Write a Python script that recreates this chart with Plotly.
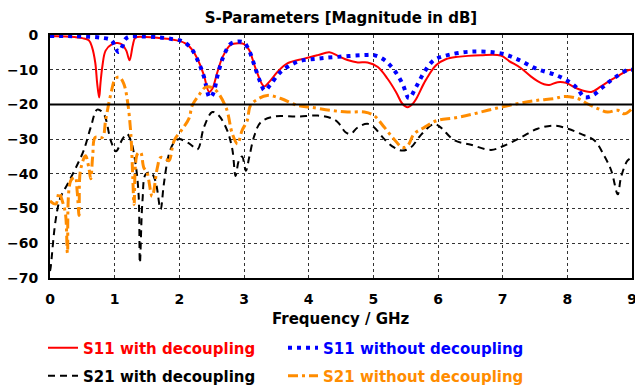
import plotly.graph_objects as go

# S11 with decoupling (dB)
f_s11_dec = [0, 0.3, 0.5, 0.6, 0.65, 0.7, 0.73, 0.76, 0.78, 0.81, 0.86, 0.96, 1.05, 1.12, 1.18,
             1.23, 1.28, 1.32, 1.48, 1.7, 1.89, 2.0, 2.1, 2.2, 2.3, 2.38, 2.46, 2.51, 2.59, 2.67,
             2.79, 2.92, 3.0, 3.08, 3.18, 3.31, 3.39, 3.52, 3.67, 3.93, 4.14, 4.32, 4.45, 4.6,
             4.76, 4.91, 5.07, 5.22, 5.35, 5.45, 5.53, 5.61, 5.66, 5.81, 5.97, 6.12, 6.3, 6.66,
             6.97, 7.1, 7.28, 7.44, 7.54, 7.64, 7.72, 7.85, 7.98, 8.16, 8.37, 8.52, 8.67, 8.8,
             8.95, 9.0]
s11_dec = [-0.3, -0.5, -0.9, -1.5, -3.5, -8, -14, -18, -14, -9, -4.5, -2.6, -2.3, -2.8, -4.5,
           -7.3, -3, -0.8, -0.6, -0.9, -1.3, -1.7, -2.5, -4.3, -7.7, -11.6, -16.4, -15.5, -10.6,
           -6.3, -2.9, -2.4, -2.6, -4.3, -9.7, -14.8, -13.5, -10.6, -8.2, -6.8, -5.8, -5.0, -6.0,
           -7.2, -7.9, -7.9, -9.2, -12.6, -16.4, -19.8, -20.8, -19.8, -18.5, -13, -8.7, -7.0,
           -6.3, -5.8, -5.9, -7.5, -9.5, -12.0, -13.3, -14.2, -14.4, -13.6, -13.8, -15.5, -16.4,
           -14.8, -13.0, -11.6, -10.1, -10.0]

# S11 without decoupling (dB)
f_s11_ref = [0, 0.5, 0.8, 0.95, 1.0, 1.06, 1.12, 1.16, 1.22, 1.4, 1.7, 1.9, 2.0, 2.1, 2.2, 2.3,
             2.38, 2.47, 2.52, 2.6, 2.68, 2.79, 2.9, 3.0, 3.08, 3.16, 3.25, 3.32, 3.4, 3.57, 3.83,
             4.14, 4.45, 4.86, 5.01, 5.17, 5.32, 5.45, 5.55, 5.66, 5.79, 5.94, 6.15, 6.51, 6.97,
             7.23, 7.52, 7.83, 8.03, 8.16, 8.26, 8.39, 8.55, 8.68, 8.93, 9.0]
s11_ref = [-0.3, -0.4, -0.8, -1.5, -3.2, -4.9, -3.2, -1.3, -0.5, -0.4, -0.7, -1.2, -1.5, -2.4,
           -4.3, -8, -12, -18, -17, -11, -6.3, -2.6, -1.9, -2.2, -4.5, -8.7, -13.5, -16, -14.5,
           -10.6, -7.7, -6.8, -6.3, -5.8, -5.8, -7.2, -10.1, -14, -18.2, -15, -10.6, -7.2, -5.8,
           -4.8, -5.3, -7.0, -9.7, -11.6, -13.5, -15.5, -17.9, -17.4, -15, -13, -10.1, -10.0]

# S21 with decoupling (dB)
f_s21_dec = [0, 0.01, 0.085, 0.16, 0.27, 0.39, 0.52, 0.63, 0.73, 0.83, 0.94, 1.02, 1.12, 1.19,
             1.25, 1.32, 1.37, 1.39, 1.43, 1.48, 1.56, 1.63, 1.71, 1.76, 1.84, 1.92, 1.99, 2.15,
             2.28, 2.38, 2.51, 2.61, 2.74, 2.82, 2.87, 2.92, 2.97, 3.03, 3.08, 3.16, 3.26, 3.46,
             3.83, 4.14, 4.34, 4.45, 4.57, 4.65, 4.76, 4.91, 5.01, 5.17, 5.32, 5.45, 5.58, 5.74,
             5.94, 6.04, 6.25, 6.51, 6.82, 7.02, 7.28, 7.54, 7.8, 8.01, 8.21, 8.42, 8.57, 8.68,
             8.78, 8.83, 8.93, 9.0]
s21_dec = [-68, -67, -53.6, -46.9, -43, -38.6, -33.3, -26.6, -21.5, -22.7, -30.4, -33.5, -30,
           -28.5, -30.4, -36.7, -45.9, -65.7, -47.8, -40.1, -39.6, -42, -50.2, -43, -34.3, -30.9,
           -30, -31.2, -32.9, -26.6, -22.2, -23.2, -27.5, -33, -40.6, -36.2, -35, -39.1, -35.3,
           -29, -25.1, -23.5, -23.5, -23.2, -23.9, -25.1, -28, -28.5, -26.6, -25.6, -26.6, -30,
           -32.4, -33.3, -32.4, -28.7, -25.6, -26.6, -30.3, -31.6, -33.1, -31.9, -29.5, -27,
           -26.1, -27, -28.5, -30.4, -34.8, -39.1, -45.9, -41, -36.2, -35.3]

# S21 without decoupling (dB)
f_s21_ref = [0, 0.09, 0.14, 0.19, 0.24, 0.27, 0.32, 0.39, 0.42, 0.45, 0.47, 0.55, 0.6, 0.63,
             0.66, 0.7, 0.81, 0.86, 0.94, 1.01, 1.07, 1.14, 1.2, 1.25, 1.28, 1.3, 1.35, 1.4, 1.45,
             1.5, 1.58, 1.66, 1.71, 1.79, 1.84, 1.92, 2.05, 2.15, 2.2, 2.3, 2.41, 2.54, 2.72, 2.82,
             2.9, 2.97, 3.05, 3.1, 3.21, 3.36, 3.57, 3.83, 4.03, 4.34, 4.6, 4.86, 5.01, 5.17,
             5.32, 5.45, 5.53, 5.63, 5.79, 5.99, 6.25, 6.51, 6.77, 7.02, 7.28, 7.54, 7.8, 7.95,
             8.16, 8.31, 8.47, 8.62, 8.78, 8.88, 9.0]
s21_ref = [-47.8, -48.7, -45.4, -47.8, -51.6, -62.8, -42, -41, -45, -52, -39.1, -34.8, -38.2,
           -41.4, -35, -29.5, -29.5, -24.6, -17, -12.6, -12.1, -14, -19.3, -28.5, -41, -48.8,
           -34.3, -33.8, -38.2, -39.6, -46.5, -38.2, -35.3, -35.7, -36.2, -30.4, -27, -24,
           -20.3, -17.4, -15, -15.5, -20.8, -28.5, -31.4, -27.5, -24.6, -20.3, -18.5, -17.4,
           -18.3, -20.3, -20.8, -21.7, -22.2, -22.2, -23.2, -26.6, -30, -32.4, -31.9, -28.5,
           -26.6, -24.6, -23.9, -22.9, -21.7, -20.6, -19.6, -18.8, -18.3, -17.7, -18.3, -19.8,
           -21.2, -22.2, -21.7, -22.7, -21.2]

x_ticks = list(range(0, 10))
y_ticks = list(range(-70, 1, 10))
threshold_db = -20

FONT = "DejaVu Sans"
RED = "#ff0000"
BLUE = "#0000ff"
BLACK = "#000000"
ORANGE = "#ff8c00"

W, H = 635, 387
M_L, M_R, M_T, M_B = 50, 3, 35, 109
PLOT_W = W - M_L - M_R
PLOT_H = H - M_T - M_B


def label(text, color):
    return f"<span style='color:{color}'><b>{text}</b></span>"


fig = go.Figure()
fig.add_trace(go.Scatter(x=f_s11_dec, y=s11_dec, mode="lines", line_shape="spline",
                         name=label("S11 with decoupling", RED),
                         line=dict(color=RED, width=2), legend="legend"))
fig.add_trace(go.Scatter(x=f_s11_ref, y=s11_ref, mode="lines", line_shape="spline",
                         name=label("S11 without decoupling", BLUE),
                         line=dict(color=BLUE, width=4, dash="4px,5px"), legend="legend2"))
fig.add_trace(go.Scatter(x=f_s21_dec, y=s21_dec, mode="lines", line_shape="spline",
                         name=label("S21 with decoupling", BLACK),
                         line=dict(color=BLACK, width=2, dash="7px,5px"), legend="legend3"))
fig.add_trace(go.Scatter(x=f_s21_ref, y=s21_ref, mode="lines", line_shape="spline",
                         name=label("S21 without decoupling", ORANGE),
                         line=dict(color=ORANGE, width=3, dash="10px,4px,3px,4px"),
                         legend="legend4"))

# heavy reference line at -20 dB
fig.add_shape(type="line", xref="x", yref="y", x0=x_ticks[0], x1=x_ticks[-1],
              y0=threshold_db, y1=threshold_db, line=dict(color=BLACK, width=2))

axis_common = dict(
    showline=True, linecolor=BLACK, linewidth=2, mirror=True,
    showgrid=True, gridcolor="#333333", gridwidth=1, griddash="dot",
    zeroline=False, ticks="",
    tickfont=dict(family=FONT, size=14, color=BLACK, weight="bold"),
    ticklabeloverflow="allow",
)

fig.update_xaxes(range=[x_ticks[0], x_ticks[-1]], tickvals=x_ticks, ticklabelstandoff=7,
                 **axis_common)
fig.update_yaxes(range=[y_ticks[0], y_ticks[-1]], tickvals=y_ticks, ticklabelstandoff=7,
                 **axis_common)

# axis title placed below the tick labels
fig.add_annotation(text="<b>Frequency / GHz</b>", xref="paper", yref="paper",
                   x=0.5, y=-(319 - (H - M_B)) / PLOT_H, xanchor="center", yanchor="middle",
                   showarrow=False, font=dict(family=FONT, size=15, color=BLACK))


def legend_box(px_left, px_row):
    return dict(x=(px_left - M_L) / PLOT_W, y=1 - px_row / H, xanchor="left", yanchor="middle",
                yref="container", orientation="h", font=dict(family=FONT, size=15),
                bgcolor="rgba(0,0,0,0)", itemclick=False, itemdoubleclick=False)


fig.update_layout(
    width=W, height=H,
    margin=dict(l=M_L, r=M_R, t=M_T, b=M_B, autoexpand=False),
    paper_bgcolor="white", plot_bgcolor="white",
    title=dict(text="<b>S-Parameters [Magnitude in dB]</b>", x=0.537, xanchor="center",
               y=0.953, yanchor="middle", font=dict(family=FONT, size=15, color=BLACK)),
    legend=legend_box(43, 348),
    legend2=legend_box(283, 348),
    legend3=legend_box(43, 376),
    legend4=legend_box(283, 376),
    showlegend=True,
)

fig.write_html("out.html")
